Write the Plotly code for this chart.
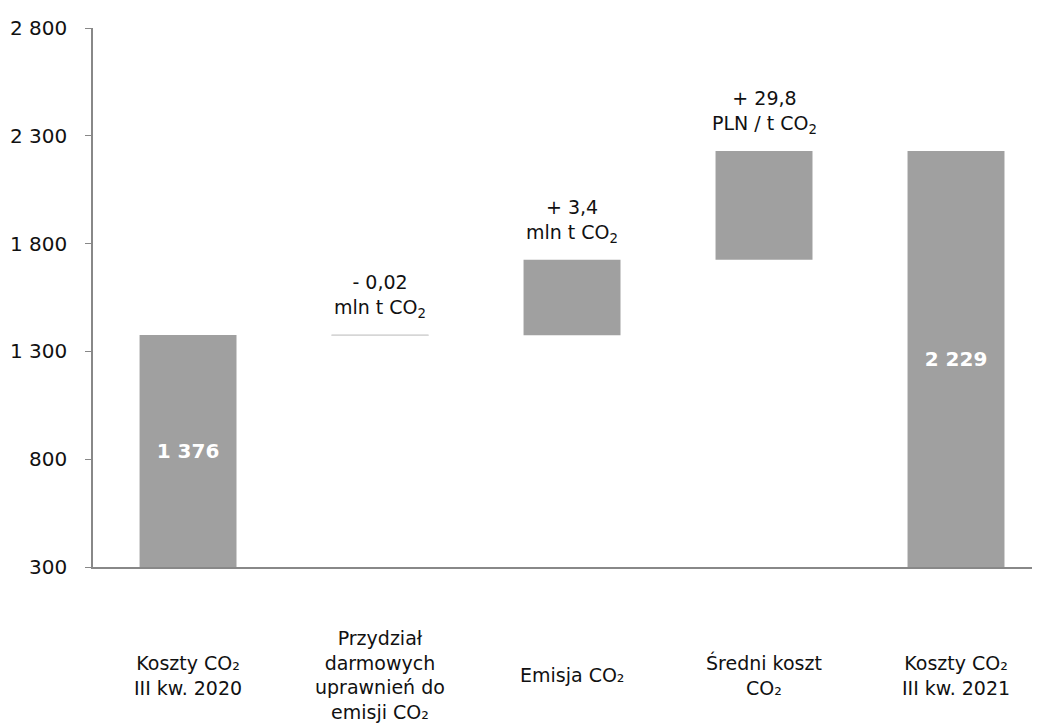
import plotly.graph_objects as go

categories = ["Koszty CO₂<br>III kw. 2020",
              "Przydział<br>darmowych<br>uprawnień do<br>emisji CO₂",
              "Emisja CO₂",
              "Średni koszt<br>CO₂",
              "Koszty CO₂<br>III kw. 2021"]
start_value = 1376
changes = [-1, 350, 504]
end_value = 2229
change_labels = ["- 0,02<br>mln t CO<sub>2</sub>",
                 "+ 3,4<br>mln t CO<sub>2</sub>",
                 "+ 29,8<br>PLN / t CO<sub>2</sub>"]
y_ticks = [300, 800, 1300, 1800, 2300, 2800]

FONT = "DejaVu Sans"
AXIS_MIN = 300

# build floating bars
bases, heights, texts = [], [], []
bases.append(AXIS_MIN); heights.append(start_value - AXIS_MIN); texts.append(f"{start_value:,}".replace(",", " "))
level = start_value
for c in changes:
    lo = min(level, level + c)
    bases.append(lo); heights.append(abs(c)); texts.append("")
    level += c
bases.append(AXIS_MIN); heights.append(end_value - AXIS_MIN); texts.append(f"{end_value:,}".replace(",", " "))

xs = list(range(len(categories)))
colors = ["#a0a0a0", "rgba(0,0,0,0)", "#a0a0a0", "#a0a0a0", "#a0a0a0"]
line_colors = ["#a0a0a0", "#d0d0d0", "#a0a0a0", "#a0a0a0", "#a0a0a0"]
line_widths = [0, 1, 0, 0, 0]

fig = go.Figure(go.Bar(
    x=xs, y=heights, base=bases, width=0.505,
    marker=dict(color=colors, line=dict(color=line_colors, width=line_widths)),
    text=texts, textposition="inside", insidetextanchor="middle",
    textfont=dict(color="white", size=20, family=FONT, weight="bold"),
    hoverinfo="skip",
))

annotations = []
level = start_value
for i, (c, lab) in enumerate(zip(changes, change_labels)):
    top = max(level, level + c)
    level += c
    annotations.append(dict(x=i + 1, y=top, xref="x", yref="y", text=lab, showarrow=False,
                            yanchor="bottom", yshift=12, font=dict(size=19, family=FONT, color="#111111")))
for i, cat in enumerate(categories):
    annotations.append(dict(x=i, y=-0.2004, xref="x", yref="paper", text=cat, showarrow=False,
                            yanchor="middle", align="center",
                            font=dict(size=19, family=FONT, color="#111111")))

fig.update_layout(
    width=1032, height=719,
    margin=dict(l=85, r=0, t=20, b=160, autoexpand=False),
    paper_bgcolor="white", plot_bgcolor="white",
    separators=", ",
    showlegend=False,
    annotations=annotations,
    xaxis=dict(range=[-0.495, 4.4375], showticklabels=False, ticks="", showgrid=False,
               zeroline=False, showline=True, linecolor="#888888", linewidth=1.5, automargin=False),
    yaxis=dict(range=[AXIS_MIN, 2800], tickvals=y_ticks, tickformat=",d", ticks="outside",
               ticklen=6, tickcolor="#888888", showgrid=False, zeroline=False, showline=True,
               linecolor="#888888", linewidth=1.5, ticklabelstandoff=14, automargin=False,
               tickfont=dict(size=20, family=FONT, color="#111111")),
)
fig.write_html("out.html")
